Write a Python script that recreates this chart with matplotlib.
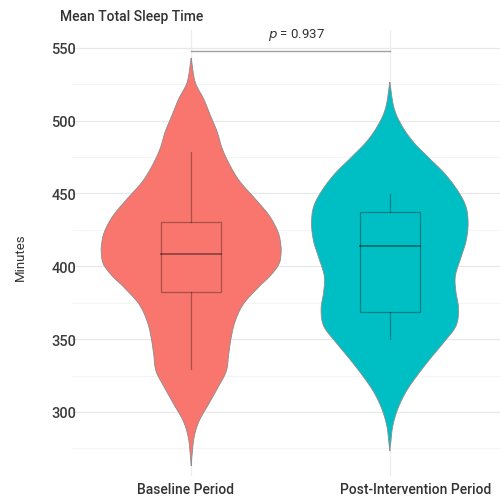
import numpy as np
import matplotlib
matplotlib.use("Agg")
import matplotlib.pyplot as plt
from matplotlib.transforms import ScaledTranslation

plt.rcParams["font.family"] = ["Roboto", "DejaVu Sans"]

groups = ["Baseline Period", "Post-Intervention Period"]
fill_colors = ["#F8766D", "#00BFC4"]

# Violin outlines: sleep minutes and half-width (in x units)
baseline_minutes = [543.1, 526.6, 514.9, 503.2, 492.3, 480.6, 468.9, 457.9, 446.2,
                    434.6, 423.6, 415.0, 408.0, 401.0, 393.0, 385.8, 374.1, 362.4, 351.5,
                    339.8, 328.1, 317.1, 305.4, 293.8, 282.8, 271.1, 262.9]
baseline_halfwidth = [0.0, 0.020, 0.063, 0.098, 0.131, 0.157, 0.197, 0.247, 0.323,
                      0.394, 0.437, 0.451, 0.452, 0.440, 0.395, 0.340, 0.263, 0.222, 0.202,
                      0.189, 0.177, 0.136, 0.088, 0.040, 0.015, 0.005, 0.0]
post_minutes = [526.6, 509.4, 497.7, 486.1, 475.1, 463.4, 451.7, 440.7, 429.1,
                417.4, 406.4, 393.4, 382.4, 370.7, 359.0, 348.0, 336.3, 324.7,
                313.7, 302.0, 290.3, 279.3, 273.2]
post_halfwidth = [0.0, 0.020, 0.056, 0.114, 0.192, 0.278, 0.343, 0.384, 0.394,
                  0.384, 0.359, 0.330, 0.333, 0.346, 0.333, 0.273, 0.202, 0.136,
                  0.081, 0.040, 0.015, 0.005, 0.0]

# Box summaries: lower whisker, Q1, median, Q3, upper whisker
baseline_box = [329.5, 382.3, 408.5, 430.4, 478.5]
post_box = [350.0, 368.6, 414.0, 437.3, 449.7]

p_value = 0.937
bracket_y = 548


def smooth_outline(minutes, halfwidth, n=14):
    pts = np.column_stack([minutes, halfwidth]).astype(float)
    ext = np.vstack([2 * pts[0] - pts[1], pts, 2 * pts[-1] - pts[-2]])
    t = np.linspace(0, 1, n, endpoint=False)[:, None]
    segs = []
    for i in range(1, len(ext) - 2):
        p0, p1, p2, p3 = ext[i - 1:i + 3]
        segs.append(0.5 * (2 * p1 + (-p0 + p2) * t
                           + (2 * p0 - 5 * p1 + 4 * p2 - p3) * t ** 2
                           + (-p0 + 3 * p1 - 3 * p2 + p3) * t ** 3))
    segs.append(pts[-1:])
    s = np.vstack(segs)
    return s[:, 0], np.clip(s[:, 1], 0, None)


W, H = 500, 502
fig = plt.figure(figsize=(W / 100, H / 100), dpi=100)
left, right, top, bottom = 72, 509, 31.4, 477
ax = fig.add_axes([left / W, 1 - bottom / H, (right - left) / W, (bottom - top) / H])
ax.set_xlim(0.4, 2.6)
ax.set_ylim(256, 562)

# Grid (minimal theme)
for v in range(275, 562, 50):
    ax.axhline(v, color="#F3F3F3", lw=0.6, zorder=0)
for v in range(300, 562, 50):
    ax.axhline(v, color="#E8E8E8", lw=0.9, zorder=0)
for xpos in (1, 2):
    ax.axvline(xpos, color="#EDEDED", lw=0.9, zorder=0)

series = [(baseline_minutes, baseline_halfwidth, baseline_box),
          (post_minutes, post_halfwidth, post_box)]
box_w = 0.30
for i, (mins, hw, box) in enumerate(series):
    c = i + 1
    y, w = smooth_outline(mins, hw)
    xs = np.concatenate([c - w, (c + w)[::-1]])
    ys = np.concatenate([y, y[::-1]])
    ax.fill(xs, ys, facecolor=fill_colors[i], edgecolor="#8c8c8c", lw=0.6, zorder=2)
    lo, q1, med, q3, hi = box
    lc = (0, 0, 0, 0.32)
    ax.plot([c, c], [lo, q1], color=lc, lw=0.9, zorder=3)
    ax.plot([c, c], [q3, hi], color=lc, lw=0.9, zorder=3)
    ax.add_patch(plt.Rectangle((c - box_w / 2, q1), box_w, q3 - q1, facecolor="none",
                               edgecolor=lc, lw=0.9, zorder=3))
    ax.plot([c - box_w / 2, c + box_w / 2], [med, med], color=(0, 0, 0, 0.42), lw=1.3, zorder=3)

# Significance bracket
ax.plot([1, 2], [bracket_y, bracket_y], color="#A0A0A0", lw=1.0, zorder=3, clip_on=False)
ax.text(1.53, 559.5, f"$p$ = {p_value}", ha="center", va="center", fontsize=9.5,
        color="#333333", clip_on=False)

for s in ax.spines.values():
    s.set_visible(False)
ax.tick_params(length=0)
ax.set_yticks([300, 350, 400, 450, 500, 550])
ax.set_yticklabels(["300", "350", "400", "450", "500", "550"], fontsize=10.5,
                   color="#3C3C3C", fontweight="medium")
ax.tick_params(axis="y", pad=-3)
ax.set_xticks([1, 2])
ax.set_xticklabels(groups, fontsize=10, color="#333333", fontweight="medium")
ax.tick_params(axis="x", pad=4)
offsets = [-6, 26]
for lab, dx in zip(ax.get_xticklabels(), offsets):
    lab.set_transform(lab.get_transform() + ScaledTranslation(dx / 100, 0, fig.dpi_scale_trans))

fig.text(20 / W, 1 - 257 / H, "Minutes", rotation=90, ha="center", va="center",
         fontsize=9.5, color="#333333")
fig.text(60 / W, 1 - 17 / H, "Mean Total Sleep Time", ha="left", va="center",
         fontsize=10, color="#333333", fontweight="medium")

fig.savefig("out.png", dpi=100)
